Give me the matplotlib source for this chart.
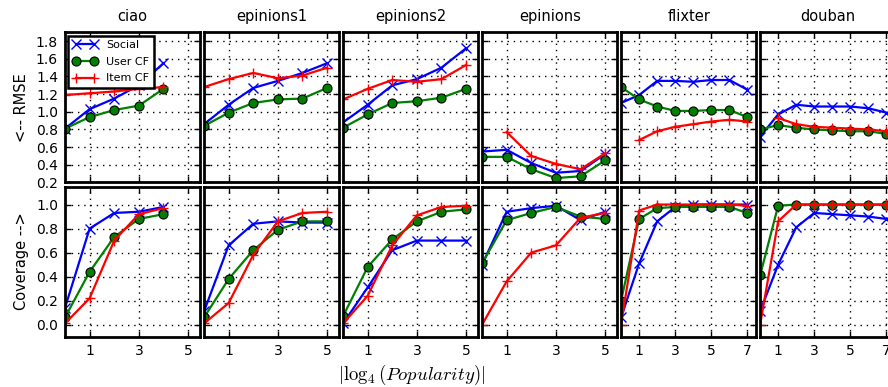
import matplotlib
matplotlib.use('Agg')
import matplotlib.pyplot as plt
import numpy as np

nan = np.nan

# --- Data ---
datasets = ['ciao', 'epinions1', 'epinions2', 'epinions', 'flixter', 'douban']
series_names = ['Social', 'User CF', 'Item CF']

rmse_social = [
    [0.81, 1.03, 1.15, 1.30, 1.55],
    [0.86, 1.08, 1.27, 1.35, 1.44, 1.55],
    [0.88, 1.08, 1.30, 1.37, 1.50, 1.72],
    [0.55, 0.57, 0.42, 0.31, 0.33, 0.52],
    [1.10, 1.19, 1.35, 1.35, 1.34, 1.36, 1.36, 1.25],
    [0.72, 0.97, 1.08, 1.06, 1.06, 1.06, 1.04, 0.99],
]
rmse_user = [
    [0.81, 0.94, 1.02, 1.07, 1.26],
    [0.84, 0.99, 1.10, 1.14, 1.15, 1.27],
    [0.82, 0.97, 1.10, 1.12, 1.16, 1.26],
    [0.49, 0.49, 0.35, 0.25, 0.27, 0.45],
    [1.28, 1.14, 1.06, 1.01, 1.01, 1.02, 1.02, 0.94],
    [0.80, 0.85, 0.82, 0.80, 0.79, 0.78, 0.78, 0.75],
]
rmse_item = [
    [1.19, 1.21, 1.23, 1.26, 1.28],
    [1.28, 1.37, 1.44, 1.38, 1.41, 1.50],
    [1.14, 1.26, 1.36, 1.34, 1.37, 1.53],
    [nan, 0.77, 0.50, 0.41, 0.35, 0.53],
    [nan, 0.68, 0.78, 0.83, 0.86, 0.89, 0.91, 0.89],
    [nan, 0.93, 0.86, 0.83, 0.82, 0.81, 0.80, 0.78],
]

cov_social = [
    [0.14, 0.80, 0.93, 0.94, 0.98],
    [0.11, 0.66, 0.84, 0.86, 0.85, 0.85],
    [0.01, 0.31, 0.62, 0.70, 0.70, 0.70],
    [0.50, 0.94, 0.97, 0.99, 0.87, 0.94],
    [0.06, 0.51, 0.86, 0.98, 1.00, 1.00, 1.00, 1.00],
    [0.11, 0.50, 0.81, 0.93, 0.92, 0.91, 0.90, 0.88],
]
cov_user = [
    [0.06, 0.44, 0.73, 0.88, 0.92],
    [0.06, 0.38, 0.62, 0.79, 0.86, 0.86],
    [0.07, 0.48, 0.71, 0.86, 0.94, 0.96],
    [0.51, 0.87, 0.93, 0.98, 0.90, 0.88],
    [0.20, 0.88, 0.97, 0.98, 0.98, 0.98, 0.98, 0.93],
    [0.41, 0.99, 1.00, 1.00, 1.00, 1.00, 1.00, 1.00],
]
cov_item = [
    [0.01, 0.22, 0.70, 0.92, 0.97],
    [0.01, 0.18, 0.58, 0.86, 0.93, 0.94],
    [0.01, 0.24, 0.66, 0.91, 0.98, 0.99],
    [0.00, 0.36, 0.60, 0.66, 0.89, 0.93],
    [0.00, 0.95, 1.00, 1.00, 1.00, 1.00, 1.00, 0.99],
    [0.00, 0.86, 1.00, 1.00, 1.00, 1.00, 1.00, 1.00],
]

x_max = [5.5, 5.5, 5.5, 5.5, 7.5, 7.5]
x_ticks = [[1, 3, 5]] * 4 + [[1, 3, 5, 7]] * 2

# --- Styles ---
styles = [
    dict(color='b', marker='x', markersize=6.5, mew=1.0),
    dict(color='g', marker='o', markersize=6.5, mec='k', mew=0.8),
    dict(color='r', marker='+', markersize=7.5, mew=1.0),
]

plt.rcParams['mathtext.fontset'] = 'cm'

fig, axes = plt.subplots(2, 6, figsize=(8.88, 3.87), dpi=100)
fig.subplots_adjust(left=0.0732, right=1.0084, top=0.9165, bottom=0.130,
                    wspace=0.027, hspace=0.027)

for col, name in enumerate(datasets):
    for row, block in enumerate([(rmse_social, rmse_user, rmse_item),
                                 (cov_social, cov_user, cov_item)]):
        ax = axes[row, col]
        for label, vals, st in zip(series_names, block, styles):
            y = np.array(vals[col], dtype=float)
            x = np.arange(len(y))
            ax.plot(x, y, lw=1.6, label=label, **st)

        ax.set_xlim(0, x_max[col])
        ax.set_xticks(x_ticks[col])
        if row == 0:
            ax.set_ylim(0.2, 1.9)
            ax.set_yticks(np.arange(0.2, 1.81, 0.2))
            ax.set_xticklabels([])
            ax.set_title(name, fontsize=10.5, pad=8)
        else:
            ax.set_ylim(-0.1, 1.15)
            ax.set_yticks(np.arange(0.0, 1.01, 0.2))
        if col == 0:
            ax.set_yticklabels(['%.1f' % t for t in ax.get_yticks()])
        else:
            ax.set_yticklabels([])

        ax.grid(True, color='k', linestyle=(0, (1, 3.5)), linewidth=1.0)
        ax.tick_params(direction='in', top=True, right=True, length=4,
                       width=1, labelsize=10, pad=5)
        for sp in ax.spines.values():
            sp.set_linewidth(2.0)

axes[0, 0].set_ylabel('<-- RMSE', fontsize=10.5, labelpad=5)
axes[1, 0].set_ylabel('Coverage -->', fontsize=10.5, labelpad=5)

leg = axes[0, 0].legend(loc='upper left', fontsize=8, handlelength=2.2,
                        borderaxespad=0.3, fancybox=False, framealpha=1,
                        edgecolor='k', labelspacing=0.6, numpoints=2)
leg.get_frame().set_linewidth(1.8)

fig.text(412 / 888.0, 0.032, r'$|\log_4(Popularity)|$', ha='center',
         va='center', fontsize=13.5)

plt.savefig('out.png', dpi=100)
